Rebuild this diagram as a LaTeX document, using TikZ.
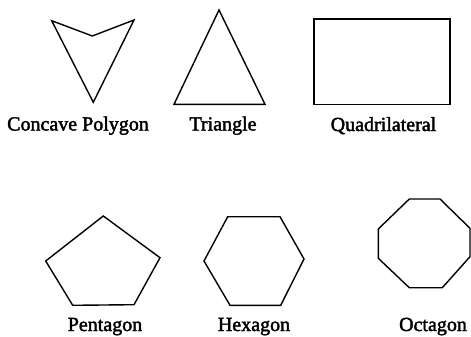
\documentclass[tikz,border=0pt]{standalone}
\usepackage{fontspec}
\setmainfont{Liberation Serif}[FakeBold=2]
\begin{document}
\begin{tikzpicture}[x=1pt,y=-1pt,
  outline/.style={draw=black,line width=1.4pt,line join=miter},
  lbl/.style={anchor=base,inner sep=0pt,font=\fontsize{20}{24}\selectfont}]
\useasboundingbox (0,0) rectangle (471,337);
% Concave polygon
\draw[outline] (51.7,20.7) -- (92.3,36) -- (134,20) -- (93.3,102.3) -- cycle;
% Triangle
\draw[outline] (219,10) -- (265,104.3) -- (174,104.3) -- cycle;
% Quadrilateral
\draw[outline] (314,19) rectangle (450,104.3);
% Pentagon
\draw[outline] (103.3,216) -- (160,257.7) -- (134,304.7) -- (72.7,305.3) -- (45.7,261) -- cycle;
% Hexagon
\draw[outline] (227.7,216.7) -- (280,216.7) -- (304,259) -- (280.7,305.3) -- (230,305.3) -- (204,261) -- cycle;
% Octagon
\draw[outline] (409.3,199) -- (440,199) -- (470,228.3) -- (470,256.7) -- (442.3,287.7) -- (409.3,287.7) -- (378.3,258.3) -- (378.3,229) -- cycle;
% Labels
\node[lbl] (lconc) at (78,130.5) {Concave Polygon};
\node[lbl] (ltri) at (223,130.5) {Triangle};
\node[lbl] (lquad) at (383.5,131) {Quadrilateral};
\node[lbl] (lpent) at (105,331) {Pentagon};
\node[lbl] (lhex) at (254,331) {Hexagon};
\node[lbl] (loct) at (433,331) {Octagon};
\end{tikzpicture}
\end{document}
